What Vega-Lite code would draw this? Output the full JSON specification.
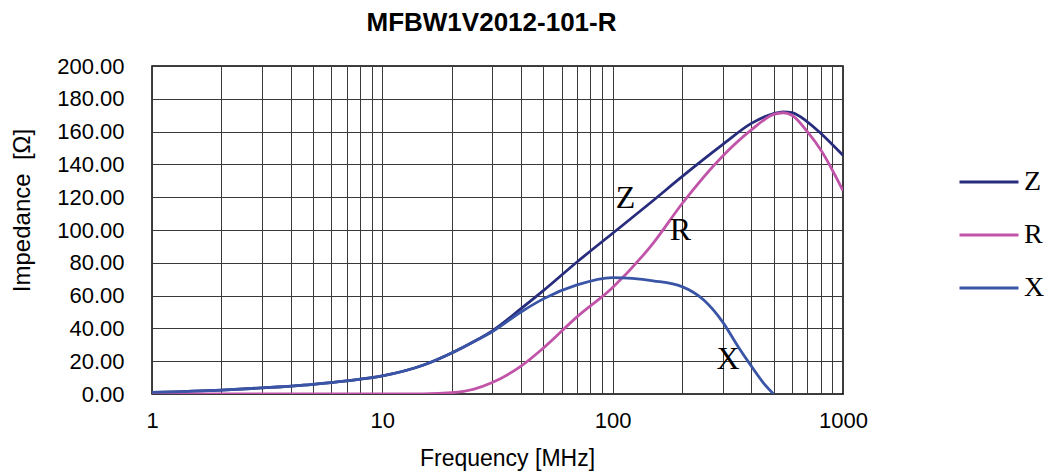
{
  "$schema": "https://vega.github.io/schema/vega-lite/v6.json",
  "autosize": "none",
  "width": 691,
  "height": 328,
  "padding": {"left": 152, "top": 66, "right": 201, "bottom": 81},
  "background": "white",
  "title": {
    "text": "MFBW1V2012-101-R",
    "font": "Liberation Sans",
    "fontSize": 26,
    "fontWeight": "bold",
    "color": "black",
    "anchor": "middle",
    "frame": "group",
    "offset": 19,
    "dx": -6
  },
  "config": {
    "view": {"stroke": "black", "strokeWidth": 1.5},
    "axis": {
      "labelFont": "Liberation Sans",
      "labelFontSize": 22,
      "labelColor": "black",
      "titleFont": "Liberation Sans",
      "titleFontSize": 23,
      "titleFontWeight": "normal",
      "titleColor": "black",
      "gridColor": "#3a3a3a",
      "gridWidth": 1,
      "gridOpacity": 1,
      "domain": false,
      "ticks": false,
      "tickSize": 0,
      "labelOverlap": false
    }
  },
  "datasets": {
    "curves": [
      {"f": 1, "v": 1.0, "s": "Z"}, {"f": 2, "v": 2.4, "s": "Z"}, {"f": 3, "v": 3.7, "s": "Z"}, {"f": 5, "v": 5.9, "s": "Z"}, {"f": 7, "v": 8.0, "s": "Z"}, {"f": 10, "v": 11, "s": "Z"}, {"f": 15, "v": 17.5, "s": "Z"}, {"f": 20, "v": 25, "s": "Z"}, {"f": 25, "v": 32, "s": "Z"}, {"f": 30, "v": 38.5, "s": "Z"}, {"f": 40, "v": 52, "s": "Z"}, {"f": 50, "v": 63, "s": "Z"}, {"f": 70, "v": 80.5, "s": "Z"}, {"f": 100, "v": 98, "s": "Z"}, {"f": 150, "v": 118, "s": "Z"}, {"f": 200, "v": 132.5, "s": "Z"}, {"f": 300, "v": 152, "s": "Z"}, {"f": 400, "v": 165, "s": "Z"}, {"f": 500, "v": 171, "s": "Z"}, {"f": 550, "v": 172, "s": "Z"}, {"f": 600, "v": 171.5, "s": "Z"}, {"f": 700, "v": 166, "s": "Z"}, {"f": 800, "v": 159, "s": "Z"}, {"f": 1000, "v": 145.5, "s": "Z"},
      {"f": 1, "v": 0, "s": "R"}, {"f": 5, "v": 0, "s": "R"}, {"f": 10, "v": 0, "s": "R"}, {"f": 15, "v": 0.1, "s": "R"}, {"f": 20, "v": 0.8, "s": "R"}, {"f": 25, "v": 3, "s": "R"}, {"f": 30, "v": 7, "s": "R"}, {"f": 40, "v": 17, "s": "R"}, {"f": 50, "v": 28, "s": "R"}, {"f": 70, "v": 47, "s": "R"}, {"f": 100, "v": 65, "s": "R"}, {"f": 150, "v": 92, "s": "R"}, {"f": 200, "v": 116, "s": "R"}, {"f": 300, "v": 145, "s": "R"}, {"f": 400, "v": 161, "s": "R"}, {"f": 500, "v": 170.5, "s": "R"}, {"f": 550, "v": 171.5, "s": "R"}, {"f": 600, "v": 170, "s": "R"}, {"f": 700, "v": 160, "s": "R"}, {"f": 800, "v": 149, "s": "R"}, {"f": 1000, "v": 124, "s": "R"},
      {"f": 1, "v": 1.0, "s": "X"}, {"f": 2, "v": 2.4, "s": "X"}, {"f": 3, "v": 3.7, "s": "X"}, {"f": 5, "v": 5.9, "s": "X"}, {"f": 7, "v": 8.0, "s": "X"}, {"f": 10, "v": 11, "s": "X"}, {"f": 15, "v": 17.5, "s": "X"}, {"f": 20, "v": 25, "s": "X"}, {"f": 25, "v": 32, "s": "X"}, {"f": 30, "v": 38, "s": "X"}, {"f": 40, "v": 50, "s": "X"}, {"f": 50, "v": 58, "s": "X"}, {"f": 70, "v": 66.5, "s": "X"}, {"f": 100, "v": 71, "s": "X"}, {"f": 150, "v": 69, "s": "X"}, {"f": 200, "v": 65.5, "s": "X"}, {"f": 250, "v": 57, "s": "X"}, {"f": 300, "v": 44, "s": "X"}, {"f": 350, "v": 29, "s": "X"}, {"f": 400, "v": 17, "s": "X"}, {"f": 450, "v": 7, "s": "X"}, {"f": 500, "v": 0, "s": "X"}
    ],
    "labels": [
      {"f": 113.7, "v": 119.8, "t": "Z"},
      {"f": 197, "v": 99.7, "t": "R"},
      {"f": 316.8, "v": 21.3, "t": "X"}
    ]
  },
  "encoding": {
    "x": {
      "field": "f", "type": "quantitative",
      "scale": {"type": "log", "domain": [1, 1000], "nice": false},
      "axis": {
        "values": [1,2,3,4,5,6,7,8,9,10,20,30,40,50,60,70,80,90,100,200,300,400,500,600,700,800,900,1000],
        "labelExpr": "(datum.value == 1 || datum.value == 10 || datum.value == 100 || datum.value == 1000) ? datum.value + '' : ''",
        "labelPadding": 33,
        "labelBaseline": "alphabetic",
        "labelFlush": false,
        "labelOverlap": false,
        "title": "Frequency [MHz]",
        "titleX": 355,
        "titleY": 71,
        "titleAlign": "center",
        "titleBaseline": "alphabetic"
      }
    },
    "y": {
      "field": "v", "type": "quantitative",
      "scale": {"domain": [0, 200], "nice": false},
      "axis": {
        "values": [0,20,40,60,80,100,120,140,160,180,200],
        "format": ".2f",
        "labelPadding": 28,
        "labelBaseline": "middle",
        "labelOverlap": false,
        "labelFlush": false,
        "labelBound": false,
        "title": "Impedance\u00a0\u00a0[Ω]",
        "titleFontSize": 24,
        "titleX": -130,
        "titleY": 144,
        "titleAngle": -90,
        "titleAlign": "center",
        "titleBaseline": "middle"
      }
    }
  },
  "layer": [
    {
      "data": {"name": "curves"},
      "mark": {"type": "line", "interpolate": "monotone", "strokeWidth": 2.8, "clip": true},
      "encoding": {
        "color": {
          "field": "s", "type": "nominal",
          "scale": {"domain": ["Z", "R", "X"], "range": ["#272C7C", "#C154A9", "#3A55A6"]},
          "legend": {
            "title": null,
            "orient": "none",
            "legendX": 806,
            "legendY": 85,
            "symbolType": "stroke",
            "symbolSize": 3481,
            "symbolStrokeWidth": 3,
            "labelFont": "Liberation Serif",
            "labelFontSize": 28,
            "labelColor": "black",
            "labelOffset": 4,
            "rowPadding": 8
          }
        },
        "order": {"field": "f", "type": "quantitative"}
      }
    },
    {
      "data": {"name": "labels"},
      "mark": {"type": "text", "font": "Liberation Serif", "fontSize": 32, "color": "black", "align": "center", "baseline": "middle"},
      "encoding": {
        "text": {"field": "t", "type": "nominal"}
      }
    }
  ]
}
